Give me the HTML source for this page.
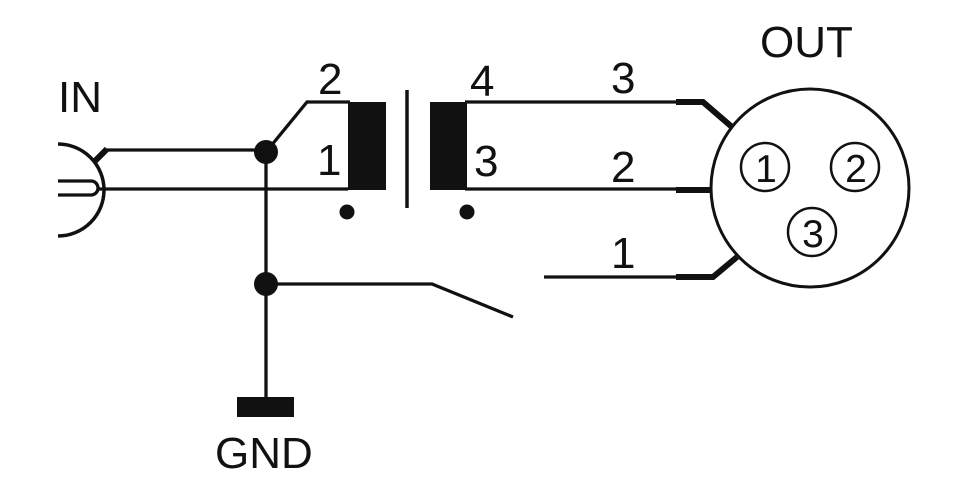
<!DOCTYPE html>
<html><head><meta charset="utf-8"><style>
html,body{margin:0;padding:0;background:#fff;}
svg{display:block;}
text{font-family:"Liberation Sans",Arial,sans-serif;fill:#111;}
</style></head><body>
<svg width="970" height="493" viewBox="0 0 970 493" xmlns="http://www.w3.org/2000/svg">
<g stroke="#111" fill="none" stroke-width="3.3">
  <path d="M58,144 A46,46 0 0 1 58,236" stroke-width="3.5"/>
  <path d="M58,181 H91 A7,7 0 0 1 91,195 H58"/>
  <line x1="98" y1="189" x2="348" y2="189"/>
  <line x1="105" y1="150" x2="266" y2="150"/>
  <line x1="95" y1="161" x2="107" y2="149" stroke-width="6"/>
  <polyline points="266,152 307,102 350,102"/>
  <line x1="407" y1="90" x2="407" y2="208" stroke-width="3.5"/>
  <line x1="465" y1="102" x2="680" y2="102"/>
  <line x1="465" y1="189" x2="680" y2="189"/>
  <line x1="544" y1="277" x2="680" y2="277"/>
  <polyline points="676,102 703,102 732,127" stroke-width="6"/>
  <line x1="676" y1="190" x2="712" y2="190" stroke-width="6"/>
  <polyline points="676,277 713,277 737,257" stroke-width="6"/>
  <circle cx="810" cy="188" r="99" stroke-width="3"/>
  <circle cx="765" cy="167" r="24" stroke-width="2.5"/>
  <circle cx="855" cy="167" r="24" stroke-width="2.5"/>
  <circle cx="812" cy="232" r="24" stroke-width="2.5"/>
  <line x1="266" y1="150" x2="266" y2="410"/>
  <polyline points="266,284 432,284 513,317"/>
</g>
<g fill="#111">
  <rect x="348" y="102" width="38" height="88"/>
  <rect x="430" y="102" width="37" height="88"/>
  <circle cx="347" cy="212" r="7.5"/>
  <circle cx="467" cy="212" r="7.5"/>
  <circle cx="266" cy="152" r="12"/>
  <circle cx="266" cy="284" r="12"/>
  <rect x="237" y="397" width="57" height="20"/>
</g>
<g font-size="44">
  <text x="58" y="112">IN</text>
  <text x="760" y="57">OUT</text>
  <text x="215" y="468">GND</text>
  <text x="318" y="94">2</text>
  <text x="317" y="175">1</text>
  <text x="470" y="96">4</text>
  <text x="474" y="176">3</text>
  <text x="611" y="93">3</text>
  <text x="611" y="182">2</text>
  <text x="611" y="268">1</text>
</g>
<g font-size="39" text-anchor="middle">
  <text x="766" y="182">1</text>
  <text x="856" y="182">2</text>
  <text x="813" y="247">3</text>
</g>
</svg>
</body></html>
